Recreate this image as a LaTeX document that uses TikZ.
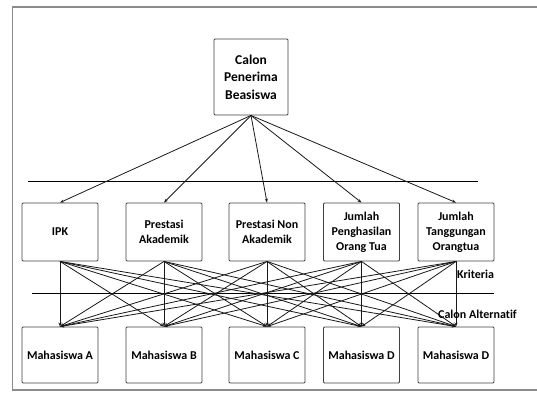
\documentclass[tikz,border=0pt]{standalone}
\usepackage{fontspec}
\setmainfont[Ligatures=NoCommon]{Carlito}
\usetikzlibrary{arrows.meta}
\begin{document}
\begin{tikzpicture}[x=1pt,y=-1pt,
  box/.style={draw=black!75,line width=0.9pt,rounded corners=1pt,fill=white,
    align=center,inner sep=1pt,font=\fontsize{12}{15}\selectfont\bfseries},
  critbox/.style={box,minimum width=76pt,minimum height=58pt},
  altbox/.style={box,minimum width=76pt,minimum height=56pt},
  link/.style={black!90,line width=0.8pt,-{Stealth[length=4pt,width=3pt]}},
  level/.style={black,line width=0.8pt},
  tag/.style={anchor=west,inner sep=0pt,font=\fontsize{12}{15}\selectfont\bfseries}]
\useasboundingbox (0,0) rectangle (537,394);
% outer frame
\draw[black!45,line width=1.5pt] (12.5,7) rectangle (545,390);

% goal
\node[box,minimum width=74pt,minimum height=76pt,
  font=\fontsize{13.5}{17.5}\selectfont\bfseries] (goal) at (251,77)
  {Calon\\Penerima\\Beasiswa};

% level separators
\coordinate (l1a) at (28,181);  \coordinate (l1b) at (478,181);
\coordinate (l2a) at (32,293);  \coordinate (l2b) at (494,293);
\draw[level] (l1a) -- (l1b);
\draw[level] (l2a) -- (l2b);

% criteria
\node[critbox] (c1) at (60,232)    {IPK};
\node[critbox] (c2) at (164,232)   {Prestasi\\Akademik};
\node[critbox] (c3) at (267,232)   {Prestasi Non\\Akademik};
\node[critbox] (c4) at (361.5,232) {Jumlah\\Penghasilan\\Orang Tua};
\node[critbox] (c5) at (456,232)   {Jumlah\\Tanggungan\\Orangtua};

% alternatives
\node[altbox] (a1) at (60,355)    {Mahasiswa A};
\node[altbox] (a2) at (164,355)   {Mahasiswa B};
\node[altbox] (a3) at (267,355)   {Mahasiswa C};
\node[altbox] (a4) at (361.5,355) {Mahasiswa D};
\node[altbox] (a5) at (456,355)   {Mahasiswa D};

% goal to criteria
\foreach \i in {1,...,5} \draw[link] (goal.south) -- (c\i.north);

% criteria to alternatives
\foreach \i in {1,...,5}
  \foreach \j in {1,...,5}
    \draw[link] (c\i.south) -- (a\j.north);

% level labels
\node[tag] (lk) at (457,274) {Kriteria};
\node[tag] (la) at (438,314) {Calon Alternatif};
\end{tikzpicture}
\end{document}
